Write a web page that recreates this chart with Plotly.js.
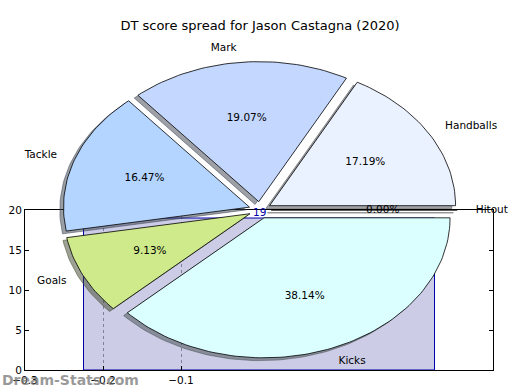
<!DOCTYPE html>
<html>
<head>
<meta charset="utf-8">
<script src="https://cdn.plot.ly/plotly-3.0.1.min.js"></script>
<style>html,body{margin:0;padding:0;background:#fff;}#chart{width:520px;height:390px;}</style>
</head>
<body>
<div id="chart"></div>
<script>
// ---- data ----
const sliceLabels = ['Handballs', 'Mark', 'Tackle', 'Goals', 'Kicks', 'Hitout'];
const slicePercents = [17.19, 19.07, 16.47, 9.13, 38.14, 0.00];
const sliceColors = ['#eaf1ff', '#c3d7ff', '#b3d5ff', '#cfea8a', '#dbffff', '#ffffff'];
const barX = [0];
const barY = [19];
const xTickVals = [-0.3, -0.2, -0.1];
const yTickVals = [0, 5, 10, 15, 20];

// ---- style ----
const FONT = 'DejaVu Sans, Liberation Sans, sans-serif';
const explode = 0.06;
const shadowOffset = [-0.02, -0.02];

function rgbaScaled(hex, k, a) {
  const r = parseInt(hex.slice(1, 3), 16), g = parseInt(hex.slice(3, 5), 16), b = parseInt(hex.slice(5, 7), 16);
  return `rgba(${Math.round(r * k)},${Math.round(g * k)},${Math.round(b * k)},${a})`;
}

const total = slicePercents.reduce((a, b) => a + b, 0);
const shadowTraces = [], wedgeTraces = [];
const lblX = [], lblY = [], lblT = [], lblPos = [];
const pctX = [], pctY = [], pctT = [];
let start = 0;
slicePercents.forEach((p, i) => {
  const span = 360 * p / total;
  const t1 = start, t2 = start + span;
  start = t2;
  const mid = (t1 + t2) / 2 * Math.PI / 180;
  const ox = explode * Math.cos(mid), oy = explode * Math.sin(mid);
  const n = Math.max(2, Math.ceil(span / 1.5));
  const xs = [ox], ys = [oy];
  for (let k = 0; k <= n; k++) {
    const a = (t1 + (t2 - t1) * k / n) * Math.PI / 180;
    xs.push(ox + Math.cos(a));
    ys.push(oy + Math.sin(a));
  }
  xs.push(ox); ys.push(oy);
  shadowTraces.push({
    type: 'scatter', mode: 'lines', xaxis: 'x2', yaxis: 'y2',
    x: xs.map(v => v + shadowOffset[0]), y: ys.map(v => v + shadowOffset[1]),
    fill: 'toself', fillcolor: rgbaScaled(sliceColors[i], 0.3, 0.5),
    line: {color: rgbaScaled(sliceColors[i], 0.3, 0.5), width: 1},
    hoverinfo: 'skip', showlegend: false
  });
  wedgeTraces.push({
    type: 'scatter', mode: 'lines', xaxis: 'x2', yaxis: 'y2',
    x: xs, y: ys, fill: 'toself', fillcolor: sliceColors[i],
    line: {color: '#000000', width: 0.8},
    hoverinfo: 'skip', showlegend: false
  });
  const c = Math.cos(mid), s = Math.sin(mid);
  lblX.push(ox + 1.1 * c); lblY.push(oy + 1.1 * s); lblT.push(sliceLabels[i]);
  lblPos.push(c >= 0 ? 'middle right' : 'middle left');
  pctX.push(ox + 0.6 * c); pctY.push(oy + 0.6 * s); pctT.push(p.toFixed(2) + '%');
});

const barTrace = {
  type: 'bar', x: barX, y: barY, width: 0.45, xaxis: 'x', yaxis: 'y',
  marker: {color: 'rgba(0,0,128,0.2)', line: {color: '#0000aa', width: 1}},
  hoverinfo: 'skip', showlegend: false
};

const labelTrace = {
  type: 'scatter', mode: 'text', xaxis: 'x2', yaxis: 'y2',
  x: lblX, y: lblY, text: lblT, textposition: lblPos,
  textfont: {family: FONT, size: 10.5, color: '#000'}, cliponaxis: false,
  hoverinfo: 'skip', showlegend: false
};
const pctTrace = {
  type: 'scatter', mode: 'text', xaxis: 'x2', yaxis: 'y2',
  x: pctX, y: pctY, text: pctT, textposition: 'middle center',
  textfont: {family: FONT, size: 10.5, color: '#000'}, cliponaxis: false,
  hoverinfo: 'skip', showlegend: false
};

const barAnnotations = barX.map((x, i) => ({
  text: String(barY[i]), xref: 'x', yref: 'y', x: x, y: barY[i],
  xanchor: 'center', yanchor: 'bottom', yshift: -2, showarrow: false,
  font: {family: FONT, size: 10.5, color: '#0000aa'}
}));

const W = 520, H = 390;
const layout = {
  width: W, height: H,
  margin: {l: 0, r: 0, t: 0, b: 0},
  paper_bgcolor: '#ffffff', plot_bgcolor: 'rgba(0,0,0,0)',
  hovermode: false, showlegend: false,
  font: {family: FONT, color: '#000'},
  title: {text: 'DT score spread for Jason Castagna (2020)', x: 0.5, xanchor: 'center',
          y: 1 - 25 / H, yref: 'container', yanchor: 'middle', font: {family: FONT, size: 13, color: '#000'}},
  xaxis: {domain: [25 / W, 493 / W], range: [-0.3, 0.3], tickvals: xTickVals,
          ticks: 'inside', ticklen: 4, tickcolor: '#000', showline: true, linecolor: '#000', linewidth: 1,
          mirror: 'ticks', showgrid: true, gridcolor: '#a0a0a0', griddash: 'dot', gridwidth: 1,
          zeroline: false, tickfont: {family: FONT, size: 10.5, color: '#000'}, fixedrange: true, anchor: 'y'},
  yaxis: {domain: [20 / H, 180 / H], range: [0, 20], tickvals: yTickVals,
          ticks: 'inside', ticklen: 4, tickcolor: '#000', showline: true, linecolor: '#000', linewidth: 1,
          mirror: 'ticks', showgrid: false, zeroline: false,
          tickfont: {family: FONT, size: 10.5, color: '#000'}, fixedrange: true, anchor: 'x'},
  xaxis2: {domain: [0, 1], range: [-260 / 186, 260 / 186], visible: false, fixedrange: true, anchor: 'y2'},
  yaxis2: {domain: [0, 1], range: [-180 / 140, 210 / 140], visible: false, fixedrange: true, anchor: 'x2'},
  annotations: barAnnotations.concat([{
    text: '<b>Dream-Stats.com</b>', xref: 'paper', yref: 'paper', x: 0, xanchor: 'left',
    y: 10 / H, yanchor: 'middle', showarrow: false,
    font: {family: FONT, size: 14, color: 'rgba(120,120,120,0.75)'}
  }])
};

Plotly.newPlot('chart', [barTrace].concat(shadowTraces, wedgeTraces, [pctTrace, labelTrace]), layout, {staticPlot: true});
</script>
</body>
</html>
